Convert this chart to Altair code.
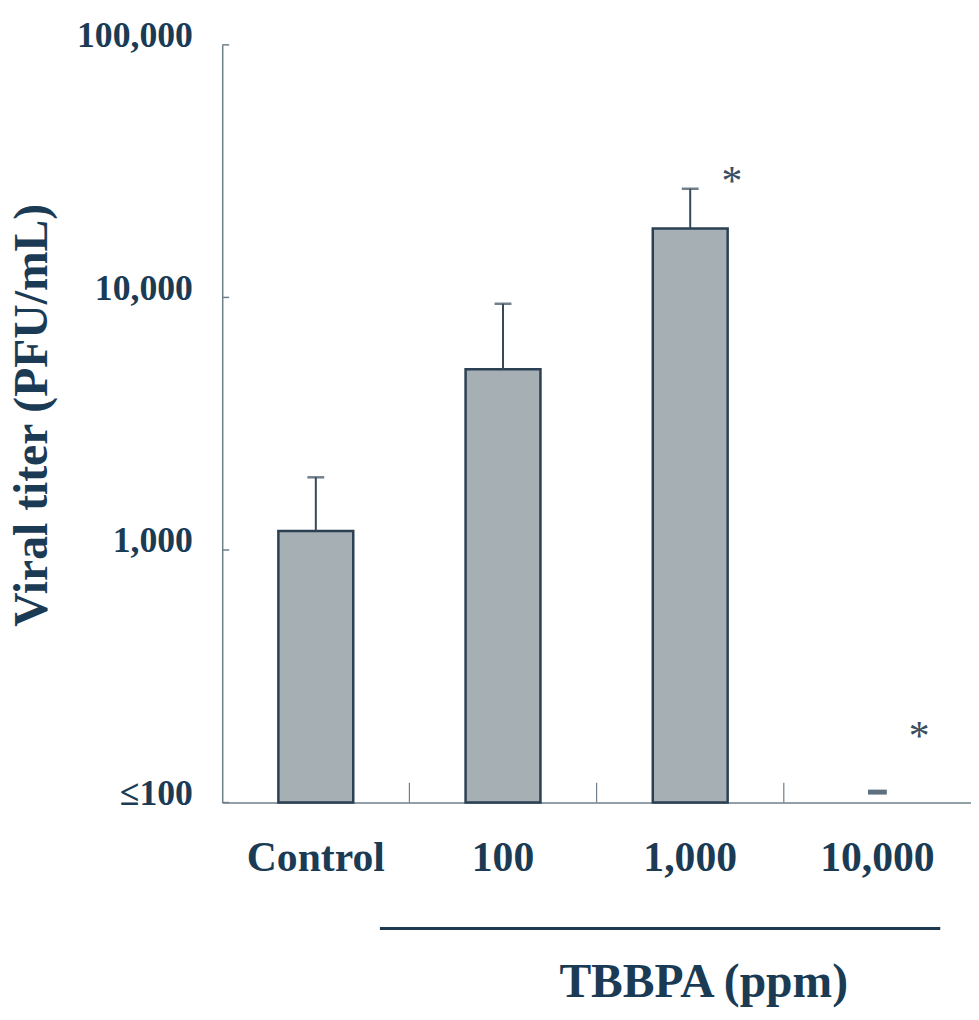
import altair as alt
import pandas as pd

# ---- data ----
categories = ["Control", "100", "1,000", "10,000"]
titer = [1190, 5200, 18760, 110]          # PFU/mL (10,000 ppm is at/below detection limit)
upper = [1940, 9440, 26930, None]         # top of error bar
below_limit = [False, False, False, True]
star_y = [None, None, 25500, 162]         # position of significance asterisks
base = 100
y_ticks = [100, 1000, 10000, 100000]

TEXT = "#1b3b55"
FONT = "Liberation Serif"

df = pd.DataFrame({
    "cat": categories,
    "titer": titer,
    "upper": upper,
    "below": below_limit,
    "star": star_y,
})
df["base"] = base

W, H = 755, 764

xscale = alt.Scale(domain=categories, paddingInner=0.6, paddingOuter=0.3)
yscale = alt.Scale(type="log", domain=[100, 100000], nice=False)

x_enc = alt.X(
    "cat:N", scale=xscale, sort=categories,
    axis=alt.Axis(
        title="TBBPA (ppm)", titleFont=FONT, titleFontSize=48, titleFontWeight="bold",
        titleColor=TEXT, titleX=485, titleY=196, titleBaseline="alphabetic",
        titleAlign="center", titleAnchor="start",
        labelAngle=0, labelFont=FONT, labelFontSize=42, labelFontWeight="bold",
        labelColor=TEXT, labelPadding=36, labelBaseline="top",
        ticks=False, tickSize=0, domainColor="#6f7f8a", domainWidth=1.5,
        grid=False,
    ),
)

y_axis = alt.Axis(
    title="Viral titer (PFU/mL)", titleFont=FONT, titleFontSize=48,
    titleFontWeight="bold", titleColor=TEXT, titleX=-177, titleY=373,
    titleAngle=-90, titleBaseline="alphabetic", titleAlign="center",
    values=y_ticks,
    labelExpr="datum.value == 100 ? '≤100' : format(datum.value, ',')",
    labelFont=FONT, labelFontSize=36, labelFontWeight="bold", labelColor=TEXT,
    labelPadding=30, labelOffset=-9, labelBaseline="middle",
    ticks=False, tickSize=0, domainColor="#6f7f8a", domainWidth=1.5, grid=False,
)

basechart = alt.Chart(df)

bars = basechart.transform_filter("!datum.below").mark_bar(
    fill="#a6afb4", stroke="#2b4052", strokeWidth=2.5
).encode(
    x=x_enc,
    y=alt.Y("titer:Q", scale=yscale, axis=y_axis),
    y2="base:Q",
)

err = basechart.transform_filter("!datum.below").mark_rule(
    color="#34495a", strokeWidth=2
).encode(
    x=alt.X("cat:N", scale=xscale, sort=categories),
    y=alt.Y("titer:Q", scale=yscale),
    y2="upper:Q",
)

caps = basechart.transform_filter("!datum.below").mark_tick(
    color="#34495a", size=17, thickness=2.5
).encode(
    x=alt.X("cat:N", scale=xscale, sort=categories),
    y=alt.Y("upper:Q", scale=yscale),
)

dash = basechart.transform_filter("datum.below").mark_tick(
    color="#1a3347", size=19, thickness=5
).encode(
    x=alt.X("cat:N", scale=xscale, sort=categories),
    y=alt.Y("titer:Q", scale=yscale),
)

stars = basechart.transform_filter("datum.star != null").mark_text(
    text="*", font=FONT, fontSize=42, color="#3a4e5e",
    align="center", baseline="alphabetic", dx=42,
).encode(
    x=alt.X("cat:N", scale=xscale, sort=categories),
    y=alt.Y("star:Q", scale=yscale),
)

# inward ticks on the y axis
ytick_df = pd.DataFrame({"v": y_ticks})
yticks = alt.Chart(ytick_df).mark_rule(color="#6f7f8a", strokeWidth=1.5).encode(
    y=alt.Y("v:Q", scale=yscale),
    x=alt.value(0),
    x2=alt.value(7),
)

# category separators on the x axis (at band boundaries)
sep_df = pd.DataFrame({"cat": categories[1:]})
seps = alt.Chart(sep_df).mark_rule(
    color="#6f7f8a", strokeWidth=1.2, xOffset=-W / 8
).encode(
    x=alt.X("cat:N", scale=xscale, sort=categories),
    y=alt.value(H - 20),
    y2=alt.value(H),
)

# group underline for TBBPA doses
line = alt.Chart(alt.Data(values=[{}])).mark_rule(
    color="#1f3a4f", strokeWidth=3
).encode(
    x=alt.value(159), x2=alt.value(724), y=alt.value(891)
)

chart = alt.layer(bars, err, caps, dash, stars, yticks, seps, line).properties(
    width=W, height=H,
    autosize=alt.AutoSizeParams(type="none"),
    padding={"left": 216, "top": 33, "right": 0, "bottom": 205},
    background="white",
).configure_view(stroke=None)

chart.save("out.html", embed_options={"renderer": "svg", "actions": False})
